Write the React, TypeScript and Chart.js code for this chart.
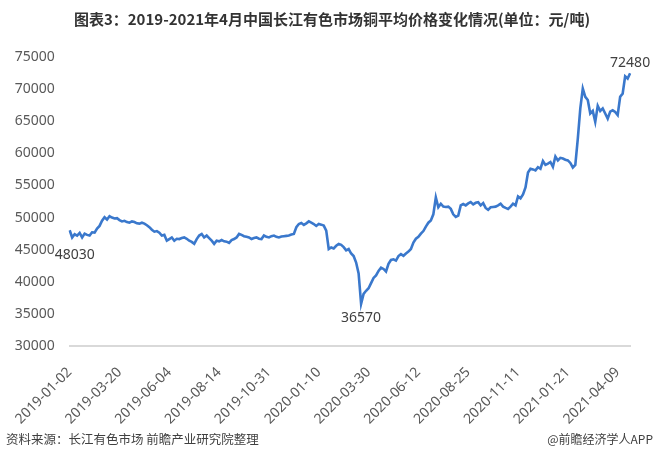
import React, { useEffect, useRef } from 'react';
import { Chart, registerables } from 'chart.js';

Chart.register(...registerables);

const TITLE = '图表3：2019-2021年4月中国长江有色市场铜平均价格变化情况(单位：元/吨)';
const SOURCE = '资料来源：长江有色市场 前瞻产业研究院整理';
const CREDIT = '@前瞻经济学人APP';

const tickLabels = [
  '2019-01-02', '2019-03-20', '2019-06-04', '2019-08-14', '2019-10-31', '2020-01-10',
  '2020-03-30', '2020-06-12', '2020-08-25', '2020-11-11', '2021-01-21', '2021-04-09',
];
const LABEL_STEP = 20;

const prices = [
  48030, 46900, 47400, 47200, 47600, 46900, 47500, 47300, 47200, 47700,
  47650, 48300, 48700, 49500, 50050, 49700, 50200, 50000, 49850, 49900,
  49600, 49400, 49500, 49300, 49200, 49400, 49300, 49100, 49050, 49200,
  49050, 48800, 48500, 48100, 47800, 47900, 47650, 47200, 47300, 46400,
  46650, 46900, 46400, 46700, 46650, 46800, 46900, 46700, 46400, 46200,
  45900, 46650, 47200, 47450, 46900, 47200, 46800, 46400, 45900, 46400,
  46300, 46500, 46300, 46250, 46050, 46500, 46650, 46900, 47450, 47300,
  47100, 47000, 46900, 46650, 46800, 46900, 46700, 46650, 47200, 47000,
  46900, 47100, 47200, 47000, 46900, 47050, 47100, 47150, 47200, 47350,
  47450, 48500, 49000, 49150, 48850, 49100, 49400, 49200, 49000, 48700,
  49000, 48900, 48750, 47970, 45100, 45350, 45200, 45600, 45900, 45750,
  45400, 44900, 45100, 44400, 44000, 43000, 41300, 36570, 38125, 38600,
  39000, 39800, 40600, 41000, 41700, 42200, 42000, 41600, 42800, 43400,
  43500, 43300, 44000, 44300, 44050, 44400, 44700, 45100, 46100, 46700,
  47000, 47500, 47900, 48600, 49200, 49550, 50500, 53150, 51600, 52150,
  51700, 51650, 51700, 51350, 50500, 50100, 50300, 51900, 52100, 51900,
  52200, 52400, 52050, 52300, 52400, 51900, 52250, 51500, 51200, 51600,
  51650, 51700, 51900, 52150, 51700, 51500, 51350, 51700, 52150, 51900,
  53300, 53000, 53600, 54700, 57000, 57600, 57500, 57350, 57850, 57600,
  58800, 58200, 58400, 58650, 57900, 59500, 58900, 59300, 59200, 59000,
  58900, 58500, 57800, 58200, 62300, 67000, 70100, 68800, 68300, 66200,
  66600, 64900, 67400, 66600, 67000, 66200, 65400, 66500, 66700, 66450,
  65950, 68800, 69300, 72000, 71650, 72480,
];

const Y_MIN = 30000;
const Y_MAX = 75000;
const Y_STEP = 5000;

const categories = prices.map((_, i) =>
  i % LABEL_STEP === 0 && tickLabels[i / LABEL_STEP] ? tickLabels[i / LABEL_STEP] : ''
);

const FONT = "'Noto Sans', 'Noto Sans CJK SC', sans-serif";
const CJK = "'Noto Sans CJK SC', 'Noto Sans', sans-serif";

const textPlugin = {
  id: 'texts',
  afterDraw(chart: any) {
    const ctx = chart.ctx as CanvasRenderingContext2D;
    ctx.save();
    ctx.fillStyle = '#333333';
    ctx.font = `bold 15px ${CJK}`;
    ctx.textAlign = 'center';
    ctx.textBaseline = 'middle';
    ctx.fillText(TITLE, 332, 19);

    ctx.font = `12.5px ${CJK}`;
    ctx.fillStyle = '#404040';
    ctx.textAlign = 'left';
    ctx.fillText(SOURCE, 6, 439);
    ctx.textAlign = 'right';
    ctx.font = `12px ${CJK}`;
    ctx.fillText(CREDIT, 653, 439);

    const pts = chart.getDatasetMeta(0).data;
    let minIdx = 0;
    prices.forEach((v, i) => { if (v < prices[minIdx]) minIdx = i; });
    const lastIdx = prices.length - 1;
    ctx.font = `14px ${FONT}`;
    ctx.fillStyle = '#404040';
    ctx.textAlign = 'center';
    const p0 = pts[0];
    ctx.fillText(String(prices[0]), p0.x + 5, p0.y + 25);
    const pm = pts[minIdx];
    ctx.fillText(String(prices[minIdx]), pm.x, pm.y + 14);
    const pl = pts[lastIdx];
    ctx.fillText(String(prices[lastIdx]), pl.x, pl.y - 10);
    ctx.restore();
  },
};

export default function App() {
  const ref = useRef<HTMLCanvasElement>(null);
  useEffect(() => {
    if (!ref.current) return;
    const chart = new Chart(ref.current, {
      type: 'line',
      data: {
        labels: categories,
        datasets: [
          {
            data: prices,
            borderColor: '#3a78cc',
            borderWidth: 2.6,
            pointRadius: 0,
            tension: 0,
            fill: false,
          },
        ],
      },
      options: {
        animation: false,
        responsive: false,
        maintainAspectRatio: false,
        layout: { padding: { top: 57, right: 27, left: 0, bottom: 0 } },
        plugins: {
          legend: { display: false },
          tooltip: { enabled: false },
          title: { display: false },
        },
        scales: {
          x: {
            type: 'category',
            offset: false,
            grid: { display: false, drawTicks: false },
            border: { display: true, color: '#d9d9d9', width: 2 },
            ticks: {
              autoSkip: false,
              maxRotation: 45,
              minRotation: 45,
              color: '#595959',
              font: { size: 14, family: FONT },
              padding: 18,
            },
            afterFit: (s: any) => { s.height = 113; },
          },
          y: {
            min: Y_MIN,
            max: Y_MAX,
            grid: { display: false, drawTicks: false },
            border: { display: false },
            ticks: {
              stepSize: Y_STEP,
              color: '#595959',
              font: { size: 14, family: FONT },
              padding: 15,
              callback: (v: any) => String(v),
            },
            afterFit: (s: any) => { s.width = 68; },
          },
        },
      },
      plugins: [textPlugin],
    });
    return () => chart.destroy();
  }, []);
  return (
    <div style={{ position: 'fixed', left: 0, top: 0, width: 660, height: 459, background: '#fff' }}>
      <canvas ref={ref} width={660} height={459} />
    </div>
  );
}
